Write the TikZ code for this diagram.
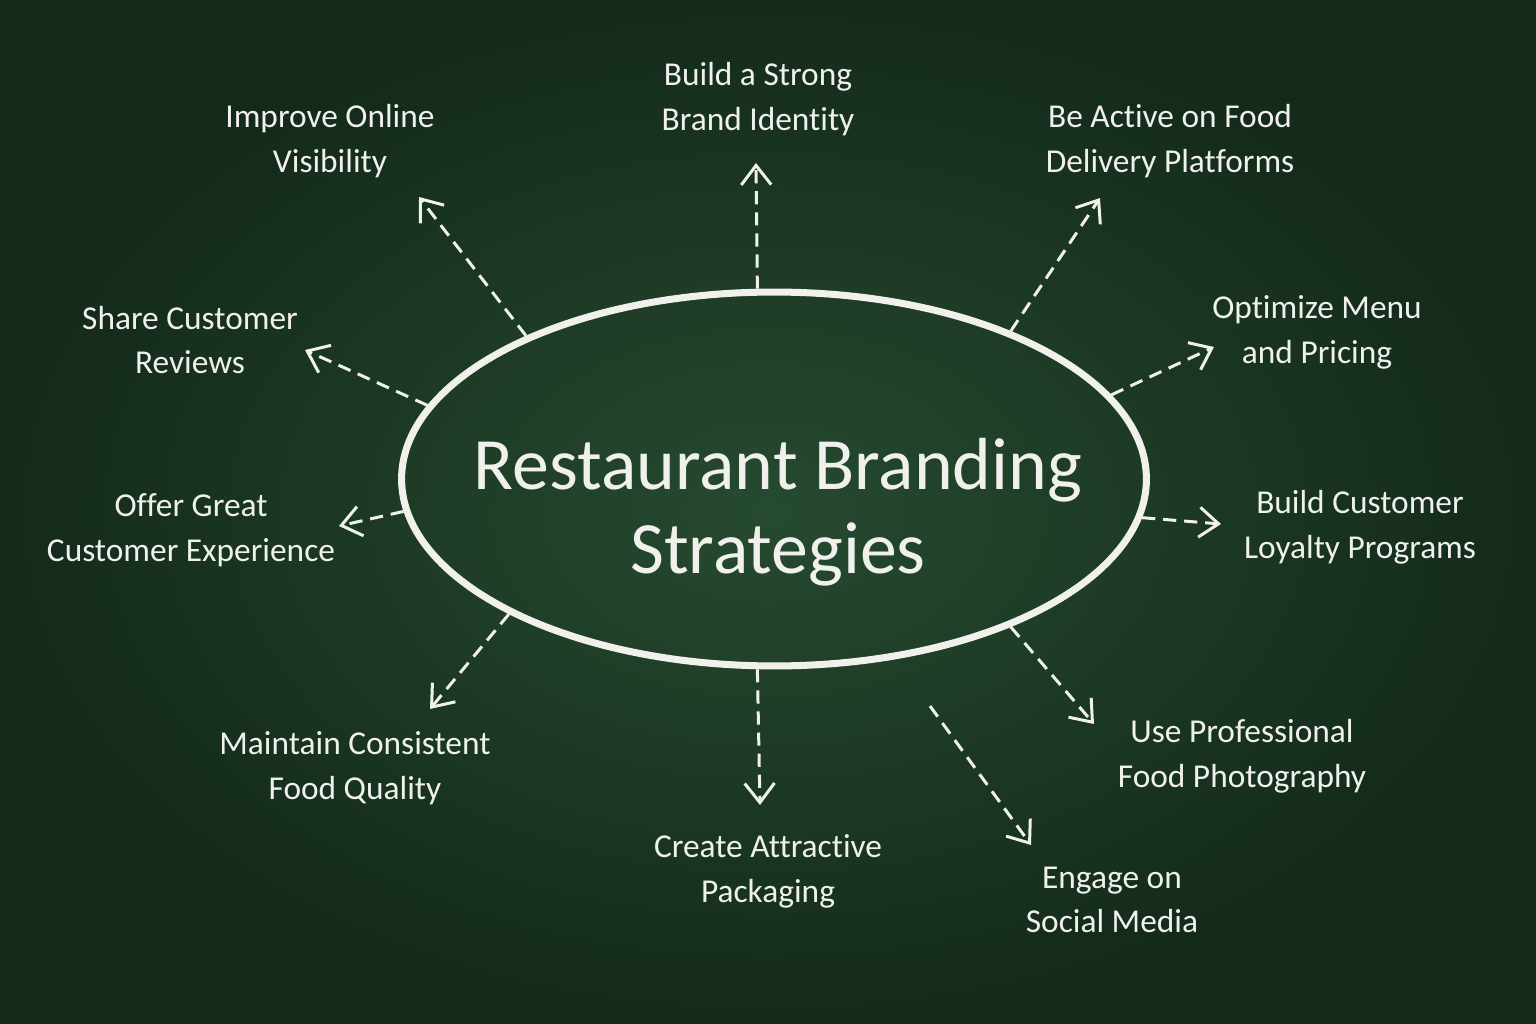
\documentclass[tikz,border=0pt]{standalone}
\usepackage{fontspec}
\setmainfont{Carlito}[Ligatures=NoCommon]
\usetikzlibrary{arrows.meta,shapes.geometric}
\definecolor{chalk}{RGB}{240,241,236}
\definecolor{boardin}{RGB}{38,74,48}
\definecolor{boardout}{RGB}{20,42,27}
\begin{document}
\begin{tikzpicture}[x=0.02cm,y=-0.02cm,
  lbl/.style={text=chalk, align=center, font=\fontsize{19}{25.5}\selectfont},
  arr/.style={draw=chalk, line width=1.7pt, dash pattern=on 7.5pt off 4.5pt,
    -{Straight Barb[length=11pt,width=17pt,line width=1.7pt]}},
  ]
\shade[inner color=boardin, outer color=boardout] (0,0) rectangle (1536,1024);
\useasboundingbox (0,0) rectangle (1536,1024);

% central ellipse and title
\node[draw=chalk, line width=4pt, ellipse, minimum width=14.9cm, minimum height=7.48cm, inner sep=0pt] (c) at (774,479) {};
\node[text=chalk, align=center, font=\fontsize{42}{48}\selectfont] (t) at (778,512) {Restaurant Branding\\Strategies};

% labels
\node[lbl] (l1) at (758,99) {Build a Strong\\Brand Identity};
\node[lbl] (l2) at (330,141) {Improve Online\\Visibility};
\node[lbl] (l3) at (1170,141) {Be Active on Food\\Delivery Platforms};
\node[lbl] (l4) at (1317,332) {Optimize Menu\\and Pricing};
\node[lbl] (l5) at (190,340) {Share Customer\\Reviews};
\node[lbl] (l6) at (191,530) {Offer Great\\Customer Experience};
\node[lbl] (l7) at (1360,527) {Build Customer\\Loyalty Programs};
\node[lbl] (l8) at (355,768) {Maintain Consistent\\Food Quality};
\node[lbl] (l9) at (1242,756) {Use Professional\\Food Photography};
\node[lbl] (l10) at (768,871) {Create Attractive\\Packaging};
\node[lbl] (l11) at (1112,900) {Engage on\\Social Media};

% arrow tips
\coordinate (e1) at (756,163);
\coordinate (e2) at (419,197);
\coordinate (e3) at (1100,198);
\coordinate (e4) at (1214,347);
\coordinate (e5) at (305,350);
\coordinate (e6) at (339,526);
\coordinate (e7) at (1221,524);
\coordinate (e8) at (430,709);
\coordinate (e9) at (1094,724);
\coordinate (e10) at (760,805);
\coordinate (e11) at (1031,845);
\coordinate (s11) at (930,706);

\draw[arr] (c.95.4) -- (e1);
\draw[arr] (c.150.9) -- (e2);
\draw[arr] (c.32.7) -- (e3);
\draw[arr] (c.14.2) -- (e4);
\draw[arr] (c.168) -- (e5);
\draw[arr] (c.185.6) -- (e6);
\draw[arr] (c.354.8) -- (e7);
\draw[arr] (c.207.6) -- (e8);
\draw[arr] (c.328.1) -- (e9);
\draw[arr] (c.265.3) -- (e10);
\draw[arr] (s11) -- (e11);
\end{tikzpicture}
\end{document}
